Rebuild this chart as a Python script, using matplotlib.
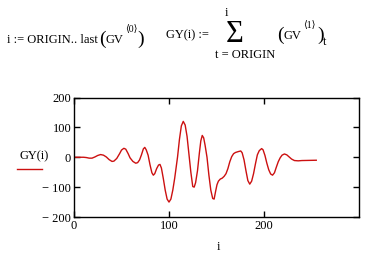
import matplotlib
matplotlib.use("Agg")
import matplotlib.pyplot as plt
from matplotlib.lines import Line2D

plt.rcParams['font.family'] = ['Liberation Serif', 'DejaVu Serif']
plt.rcParams['mathtext.fontset'] = 'custom'
plt.rcParams['mathtext.rm'] = 'Liberation Serif'
plt.rcParams['mathtext.it'] = 'Liberation Serif'

# values
gy_i = [0, 10, 13, 16, 19, 22, 25, 28, 31, 34, 37, 40, 42, 45, 48, 50,
        52.5, 54.5, 57, 59, 62, 65, 67, 69, 71, 73, 74.5, 76, 78, 80, 82,
        83.5, 85, 87, 89, 90.5, 92, 94, 96, 98, 100, 102, 104, 106, 109,
        111, 113, 115, 117, 119, 121, 123, 125, 126.5, 128, 130, 132, 133.5,
        135, 136.5, 138, 140, 142, 144, 146, 147.5, 149, 150.5, 152, 154,
        156, 158, 160, 162, 164, 166, 168, 170, 173, 175.5, 177, 179, 181,
        183, 185, 187, 189, 191, 193, 195, 197.5, 199, 201, 203, 205, 207,
        209, 211, 213, 215, 217, 219, 221.5, 224, 226.5, 229, 232, 236,
        240, 255]
gy_val = [0, 0, -1, -3, -3, 1, 6, 9, 7, 1, -8, -14, -13, -4, 12, 24,
          30, 27, 12, -2, -14, -20, -18, -9, 8, 28, 33, 25, 7, -25, -52,
          -60, -55, -38, -26, -24, -36, -71, -110, -140, -150, -140, -110,
          -70, 1, 60, 105, 120, 108, 70, 10, -50, -98, -100, -85, -45, 15,
          55, 73, 65, 40, 0, -60, -110, -138, -140, -115, -92, -80, -73,
          -70, -64, -55, -38, -15, 2, 12, 16, 19, 21, 15, -9, -45,
          -78, -90, -80, -55, -22, 8, 22, 29, 25, 6, -20, -42, -56,
          -60, -52, -33, -15, -2, 7, 11, 8, 1, -6, -11, -12,
          -11, -10]

x_ticks = [0, 100, 200]
y_ticks = [200, 100, 0, -100, -200]
y_ticklabels = ["200", "100", "0", "\u2212 100", "\u2212 200"]

W, H = 382, 261
fig = plt.figure(figsize=(W / 100, H / 100), dpi=100)
ax = fig.add_axes([74 / W, 1 - 217 / H, 285 / W, 119.5 / H])

ax.plot(gy_i, gy_val, color="#cc1010", lw=1.0)
ax.set_xlim(0, 300)
ax.set_ylim(-200, 200)
ax.set_xticks(x_ticks)
ax.set_yticks(y_ticks)
ax.set_yticklabels(y_ticklabels)
ax.tick_params(direction="in", length=4, width=1, top=True, right=True,
               labelsize=9, pad=2, colors="black")
for s in ax.spines.values():
    s.set_linewidth(1.0)

# axis labels in Mathcad style
fig.text(218 / W, 1 - 247 / H, "i", ha="center", va="center", fontsize=9)
fig.text(34 / W, 1 - 156 / H, "GY(i)", ha="center", va="center", fontsize=9)
fig.add_artist(Line2D([17 / W, 42 / W], [1 - 169 / H, 1 - 169 / H],
                      color="#cc1010", lw=1.0))


def put(x, y, s, size=9, ha="left", va="baseline"):
    fig.text(x / W, 1 - y / H, s, ha=ha, va=va, fontsize=size)


# formulas above the plot
put(7, 43, "i := ORIGIN.. last")
put(99, 44, "(", size=14)
put(106, 43, "GV")
put(125, 32, "\u27e80\u27e9", size=7)
put(137, 44, ")", size=14)

put(166, 38, "GY(i) :=")
put(226, 34, "\u03a3", size=22, va="center")
put(226, 13, "i", ha="center", va="center")
put(245, 55, "t = ORIGIN", ha="center", va="center")
put(277, 40, "(", size=14)
put(284, 39, "GV")
put(303, 28, "\u27e81\u27e9", size=7)
put(317, 40, ")", size=14)
put(323, 45, "t")

fig.savefig("out.png", dpi=100)
